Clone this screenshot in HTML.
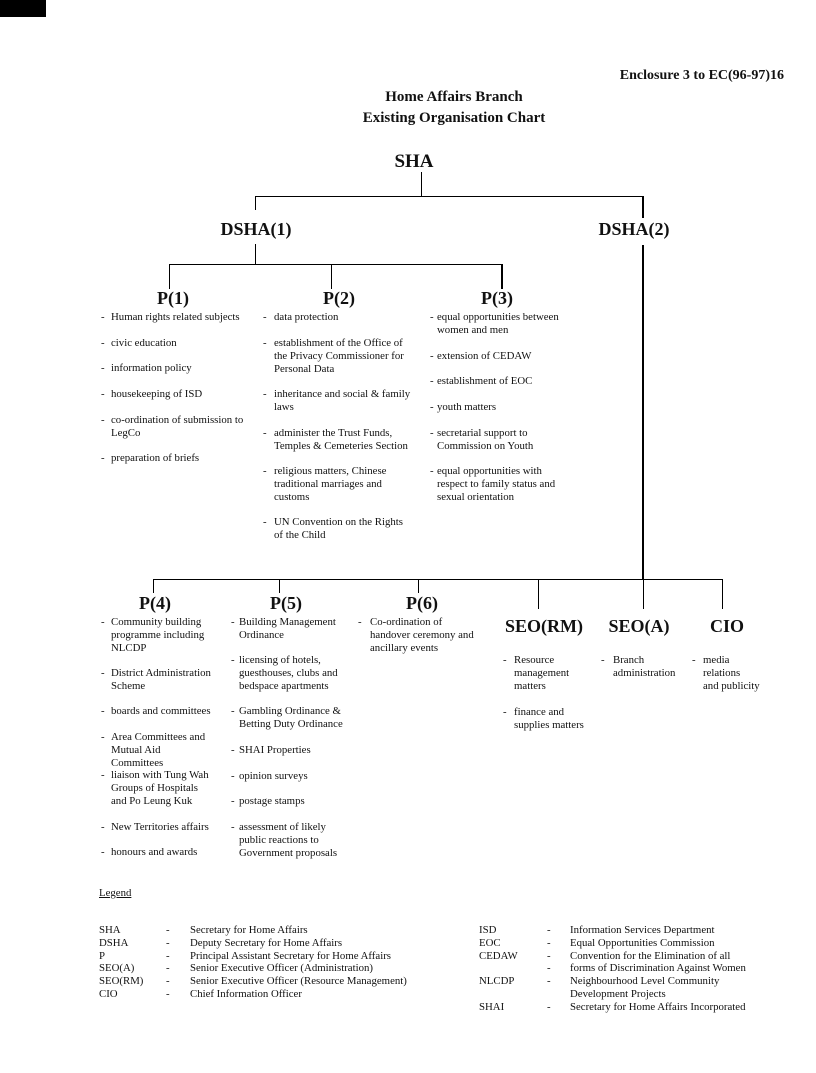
<!DOCTYPE html>
<html><head><meta charset="utf-8"><style>
body{margin:0;width:816px;height:1073px;background:#fff;position:relative;font-family:"Liberation Serif",serif;color:#111;overflow:hidden}
.a{position:absolute;white-space:nowrap}
.h{position:absolute;font-weight:bold;transform:translateX(-50%);white-space:nowrap}
.t{position:absolute;font-size:10.8px;line-height:12.8px;white-space:nowrap;margin-top:1px}
.l{position:absolute;background:#000}
</style></head><body>
<div class="l" style="left:0;top:0;width:46px;height:17px"></div>
<div class="a" style="right:32px;top:68px;font-size:14px;font-weight:bold">Enclosure 3 to EC(96-97)16</div>
<div class="h" style="left:454px;top:89px;font-size:15px">Home Affairs Branch</div>
<div class="h" style="left:454px;top:110px;font-size:15px">Existing Organisation Chart</div>
<div class="h" style="left:414px;top:151px;font-size:19px">SHA</div>
<div class="h" style="left:256px;top:219px;font-size:18px">DSHA(1)</div>
<div class="h" style="left:634px;top:219px;font-size:18px">DSHA(2)</div>
<div class="h" style="left:173px;top:288px;font-size:18px">P(1)</div>
<div class="h" style="left:339px;top:288px;font-size:18px">P(2)</div>
<div class="h" style="left:497px;top:288px;font-size:18px">P(3)</div>
<div class="h" style="left:155px;top:593px;font-size:18px">P(4)</div>
<div class="h" style="left:286px;top:593px;font-size:18px">P(5)</div>
<div class="h" style="left:422px;top:593px;font-size:18px">P(6)</div>
<div class="h" style="left:544px;top:616px;font-size:18px">SEO(RM)</div>
<div class="h" style="left:639px;top:616px;font-size:18px">SEO(A)</div>
<div class="h" style="left:727px;top:616px;font-size:18px">CIO</div>
<!-- lines -->
<div class="l" style="left:421px;top:172px;width:1px;height:25px"></div>
<div class="l" style="left:255px;top:196px;width:388px;height:1px"></div>
<div class="l" style="left:255px;top:196px;width:1px;height:14px"></div>
<div class="l" style="left:642px;top:196px;width:2px;height:22px"></div>
<div class="l" style="left:255px;top:244px;width:1px;height:21px"></div>
<div class="l" style="left:169px;top:264px;width:333px;height:1px"></div>
<div class="l" style="left:169px;top:264px;width:1px;height:25px"></div>
<div class="l" style="left:331px;top:264px;width:1px;height:25px"></div>
<div class="l" style="left:501px;top:264px;width:2px;height:25px"></div>
<div class="l" style="left:642px;top:245px;width:2px;height:335px"></div>
<div class="l" style="left:153px;top:579px;width:570px;height:1px"></div>
<div class="l" style="left:153px;top:579px;width:1px;height:14px"></div>
<div class="l" style="left:279px;top:579px;width:1px;height:14px"></div>
<div class="l" style="left:418px;top:579px;width:1px;height:14px"></div>
<div class="l" style="left:538px;top:579px;width:1px;height:30px"></div>
<div class="l" style="left:643px;top:579px;width:1px;height:30px"></div>
<div class="l" style="left:722px;top:579px;width:1px;height:30px"></div>
<!-- P(1) -->
<div class="t" style="left:101px;top:310px">-</div><div class="t" style="left:111px;top:310px">Human rights related subjects</div>
<div class="t" style="left:101px;top:336px">-</div><div class="t" style="left:111px;top:336px">civic education</div>
<div class="t" style="left:101px;top:361px">-</div><div class="t" style="left:111px;top:361px">information policy</div>
<div class="t" style="left:101px;top:387px">-</div><div class="t" style="left:111px;top:387px">housekeeping of ISD</div>
<div class="t" style="left:101px;top:413px">-</div><div class="t" style="left:111px;top:413px">co-ordination of submission to<br>LegCo</div>
<div class="t" style="left:101px;top:451px">-</div><div class="t" style="left:111px;top:451px">preparation of briefs</div>
<!-- P(2) -->
<div class="t" style="left:263px;top:310px">-</div><div class="t" style="left:274px;top:310px">data protection</div>
<div class="t" style="left:263px;top:336px">-</div><div class="t" style="left:274px;top:336px">establishment of the Office of<br>the Privacy Commissioner for<br>Personal Data</div>
<div class="t" style="left:263px;top:387px">-</div><div class="t" style="left:274px;top:387px">inheritance and social &amp; family<br>laws</div>
<div class="t" style="left:263px;top:426px">-</div><div class="t" style="left:274px;top:426px">administer the Trust Funds,<br>Temples &amp; Cemeteries Section</div>
<div class="t" style="left:263px;top:464px">-</div><div class="t" style="left:274px;top:464px">religious matters, Chinese<br>traditional marriages and<br>customs</div>
<div class="t" style="left:263px;top:515px">-</div><div class="t" style="left:274px;top:515px">UN Convention on the Rights<br>of the Child</div>
<!-- P(3) -->
<div class="t" style="left:430px;top:310px">-</div><div class="t" style="left:437px;top:310px">equal opportunities between<br>women and men</div>
<div class="t" style="left:430px;top:349px">-</div><div class="t" style="left:437px;top:349px">extension of CEDAW</div>
<div class="t" style="left:430px;top:374px">-</div><div class="t" style="left:437px;top:374px">establishment of EOC</div>
<div class="t" style="left:430px;top:400px">-</div><div class="t" style="left:437px;top:400px">youth matters</div>
<div class="t" style="left:430px;top:426px">-</div><div class="t" style="left:437px;top:426px">secretarial support to<br>Commission on Youth</div>
<div class="t" style="left:430px;top:464px">-</div><div class="t" style="left:437px;top:464px">equal opportunities with<br>respect to family status and<br>sexual orientation</div>
<!-- P(4) -->
<div class="t" style="left:101px;top:615px">-</div><div class="t" style="left:111px;top:615px">Community building<br>programme including<br>NLCDP</div>
<div class="t" style="left:101px;top:666px">-</div><div class="t" style="left:111px;top:666px">District Administration<br>Scheme</div>
<div class="t" style="left:101px;top:704px">-</div><div class="t" style="left:111px;top:704px">boards and committees</div>
<div class="t" style="left:101px;top:730px">-</div><div class="t" style="left:111px;top:730px">Area Committees and<br>Mutual Aid<br>Committees</div>
<div class="t" style="left:101px;top:768px">-</div><div class="t" style="left:111px;top:768px">liaison with Tung Wah<br>Groups of Hospitals<br>and Po Leung Kuk</div>
<div class="t" style="left:101px;top:820px">-</div><div class="t" style="left:111px;top:820px">New Territories affairs</div>
<div class="t" style="left:101px;top:845px">-</div><div class="t" style="left:111px;top:845px">honours and awards</div>
<!-- P(5) -->
<div class="t" style="left:231px;top:615px">-</div><div class="t" style="left:239px;top:615px">Building Management<br>Ordinance</div>
<div class="t" style="left:231px;top:653px">-</div><div class="t" style="left:239px;top:653px">licensing of hotels,<br>guesthouses, clubs and<br>bedspace apartments</div>
<div class="t" style="left:231px;top:704px">-</div><div class="t" style="left:239px;top:704px">Gambling Ordinance &amp;<br>Betting Duty Ordinance</div>
<div class="t" style="left:231px;top:743px">-</div><div class="t" style="left:239px;top:743px">SHAI Properties</div>
<div class="t" style="left:231px;top:769px">-</div><div class="t" style="left:239px;top:769px">opinion surveys</div>
<div class="t" style="left:231px;top:794px">-</div><div class="t" style="left:239px;top:794px">postage stamps</div>
<div class="t" style="left:231px;top:820px">-</div><div class="t" style="left:239px;top:820px">assessment of likely<br>public reactions to<br>Government proposals</div>
<!-- P(6) -->
<div class="t" style="left:358px;top:615px">-</div><div class="t" style="left:370px;top:615px">Co-ordination of<br>handover ceremony and<br>ancillary events</div>
<!-- SEO -->
<div class="t" style="left:503px;top:653px">-</div><div class="t" style="left:514px;top:653px">Resource<br>management<br>matters</div>
<div class="t" style="left:503px;top:705px">-</div><div class="t" style="left:514px;top:705px">finance and<br>supplies matters</div>
<div class="t" style="left:601px;top:653px">-</div><div class="t" style="left:613px;top:653px">Branch<br>administration</div>
<div class="t" style="left:692px;top:653px">-</div><div class="t" style="left:703px;top:653px">media<br>relations<br>and publicity</div>
<!-- legend -->
<div class="t" style="left:99px;top:886px;text-decoration:underline">Legend</div>
<div class="t" style="left:99px;top:923px">SHA<br>DSHA<br>P<br>SEO(A)<br>SEO(RM)<br>CIO</div>
<div class="t" style="left:166px;top:923px">-<br>-<br>-<br>-<br>-<br>-</div>
<div class="t" style="left:190px;top:923px">Secretary for Home Affairs<br>Deputy Secretary for Home Affairs<br>Principal Assistant Secretary for Home Affairs<br>Senior Executive Officer (Administration)<br>Senior Executive Officer (Resource Management)<br>Chief Information Officer</div>
<div class="t" style="left:479px;top:923px">ISD<br>EOC<br>CEDAW<br><br>NLCDP<br><br>SHAI</div>
<div class="t" style="left:547px;top:923px">-<br>-<br>-<br>-<br>-<br><br>-</div>
<div class="t" style="left:570px;top:923px">Information Services Department<br>Equal Opportunities Commission<br>Convention for the Elimination of all<br>forms of Discrimination Against Women<br>Neighbourhood Level Community<br>Development Projects<br>Secretary for Home Affairs Incorporated</div>
</body></html>
